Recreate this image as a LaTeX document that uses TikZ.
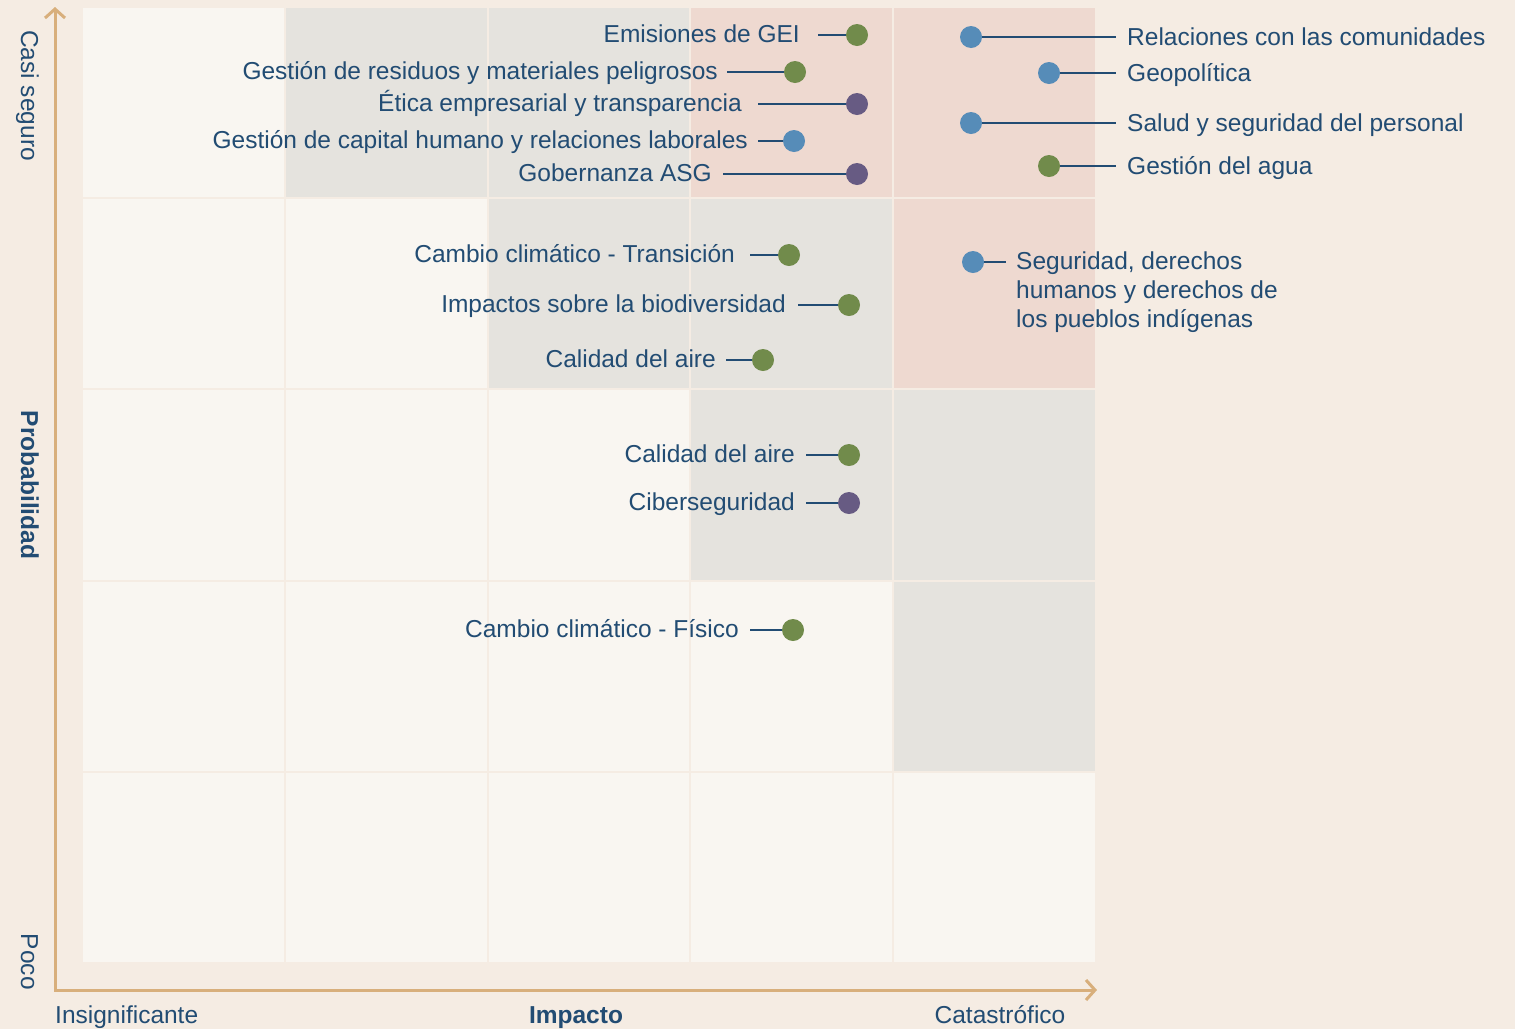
\documentclass[tikz,border=0pt]{standalone}
\usepackage{fontspec}
\setmainfont{Liberation Sans}
\usetikzlibrary{arrows.meta}
\definecolor{bg}{HTML}{F5ECE3}
\definecolor{cLight}{HTML}{F9F6F1}
\definecolor{cGray}{HTML}{E5E3DE}
\definecolor{cPink}{HTML}{EED9D0}
\definecolor{txt}{HTML}{224C73}
\definecolor{dGreen}{HTML}{718B4B}
\definecolor{dBlue}{HTML}{568CB8}
\definecolor{dPurple}{HTML}{675B83}
\definecolor{axis}{HTML}{D8AF7C}
\tikzset{
  dot/.style={circle, inner sep=0pt, minimum size=22pt, outer sep=0pt},
  lbl/.style={text=txt, inner ysep=0pt, font=\fontsize{24.5}{29}\selectfont},
  bold/.style={lbl, font=\fontsize{24.5}{29}\selectfont\bfseries},
  conn/.style={draw=txt, line width=2pt},
}
\begin{document}
\begin{tikzpicture}[x=1pt,y=-1pt]
\fill[bg] (0,0) rectangle (1515,1029);
\useasboundingbox (0,0) rectangle (1515,1029);
% grid cells
\foreach \r/\cols in {0/{cLight,cGray,cGray,cPink,cPink},1/{cLight,cLight,cGray,cGray,cPink},2/{cLight,cLight,cLight,cGray,cGray},3/{cLight,cLight,cLight,cLight,cGray},4/{cLight,cLight,cLight,cLight,cLight}}{
  \foreach \cc [count=\c from 0] in \cols {
    \fill[\cc] ({82+\c*202.8+1},{7+\r*191.2+1}) rectangle ({82+(\c+1)*202.8-1},{7+(\r+1)*191.2-1});
  }
}
% axes
\coordinate (ytop) at (55,7);
\coordinate (origin) at (55,990);
\coordinate (xend) at (1097,990);
\draw[axis, line width=3pt, line join=miter, {Straight Barb[length=9pt,width=20pt,line width=3pt]}-{Straight Barb[length=9pt,width=20pt,line width=3pt]}] (ytop) -- (origin) -- (xend);
% axis labels
\node[lbl, rotate=-90, anchor=base west, inner sep=0pt] (casi) at (21,30) {Casi seguro};
\node[bold, rotate=-90, anchor=base, inner sep=0pt] (prob) at (21,485) {Probabilidad};
\node[lbl, rotate=-90, anchor=base east, inner sep=0pt] (poco) at (21,990) {Poco};
\node[lbl, anchor=base west, inner sep=0pt] (insig) at (55,1023) {Insignificante};
\node[bold, anchor=base, inner sep=0pt] (imp) at (576,1023) {Impacto};
\node[lbl, anchor=base, inner sep=0pt] (cat) at (1000,1023) {Catastrófico};
% left-labelled items
\node[dot, fill=dGreen] (d1) at (857,35) {};
\node[lbl, anchor=base east, inner xsep=18pt] (l1) at (818,42) {Emisiones de GEI};
\draw[conn] (l1.east |- d1.center) -- (d1);
\node[dot, fill=dGreen] (d2) at (795,72) {};
\node[lbl, anchor=base east, inner xsep=9pt] (l2) at (727,79) {Gestión de residuos y materiales peligrosos};
\draw[conn] (l2.east |- d2.center) -- (d2);
\node[dot, fill=dPurple] (d3) at (857,104) {};
\node[lbl, anchor=base east, inner xsep=16pt] (l3) at (758,111) {Ética empresarial y transparencia};
\draw[conn] (l3.east |- d3.center) -- (d3);
\node[dot, fill=dBlue] (d4) at (794,141) {};
\node[lbl, anchor=base east, inner xsep=10pt] (l4) at (758,148) {Gestión de capital humano y relaciones laborales};
\draw[conn] (l4.east |- d4.center) -- (d4);
\node[dot, fill=dPurple] (d5) at (857,174) {};
\node[lbl, anchor=base east, inner xsep=11pt] (l5) at (723,181) {Gobernanza ASG};
\draw[conn] (l5.east |- d5.center) -- (d5);
\node[dot, fill=dGreen] (d6) at (789,255) {};
\node[lbl, anchor=base east, inner xsep=15pt] (l6) at (750,262) {Cambio climático - Transición};
\draw[conn] (l6.east |- d6.center) -- (d6);
\node[dot, fill=dGreen] (d7) at (849,305) {};
\node[lbl, anchor=base east, inner xsep=12pt] (l7) at (798,312) {Impactos sobre la biodiversidad};
\draw[conn] (l7.east |- d7.center) -- (d7);
\node[dot, fill=dGreen] (d8) at (763,360) {};
\node[lbl, anchor=base east, inner xsep=10pt] (l8) at (726,367) {Calidad del aire};
\draw[conn] (l8.east |- d8.center) -- (d8);
\node[dot, fill=dGreen] (d9) at (849,455) {};
\node[lbl, anchor=base east, inner xsep=11pt] (l9) at (806,462) {Calidad del aire};
\draw[conn] (l9.east |- d9.center) -- (d9);
\node[dot, fill=dPurple] (d10) at (849,503) {};
\node[lbl, anchor=base east, inner xsep=11pt] (l10) at (806,510) {Ciberseguridad};
\draw[conn] (l10.east |- d10.center) -- (d10);
\node[dot, fill=dGreen] (d11) at (793,630) {};
\node[lbl, anchor=base east, inner xsep=11pt] (l11) at (750,637) {Cambio climático - Físico};
\draw[conn] (l11.east |- d11.center) -- (d11);
% right-labelled items
\node[dot, fill=dBlue] (r1) at (971,37) {};
\node[lbl, anchor=base west, inner xsep=11pt] (t1) at (1116,45) {Relaciones con las comunidades};
\draw[conn] (r1) -- (t1.west |- r1.center);
\node[dot, fill=dBlue] (r2) at (1049,73) {};
\node[lbl, anchor=base west, inner xsep=11pt] (t2) at (1116,81) {Geopolítica};
\draw[conn] (r2) -- (t2.west |- r2.center);
\node[dot, fill=dBlue] (r3) at (971,123) {};
\node[lbl, anchor=base west, inner xsep=11pt] (t3) at (1116,131) {Salud y seguridad del personal};
\draw[conn] (r3) -- (t3.west |- r3.center);
\node[dot, fill=dGreen] (r4) at (1049,166) {};
\node[lbl, anchor=base west, inner xsep=11pt] (t4) at (1116,174) {Gestión del agua};
\draw[conn] (r4) -- (t4.west |- r4.center);
\node[dot, fill=dBlue] (r5) at (973,262) {};
\node[lbl, anchor=base west, align=left, inner xsep=10pt] (t5) at (1006,327) {Seguridad, derechos\\humanos y derechos de\\los pueblos indígenas};
\draw[conn] (r5) -- (t5.west |- r5.center);
\end{tikzpicture}
\end{document}
